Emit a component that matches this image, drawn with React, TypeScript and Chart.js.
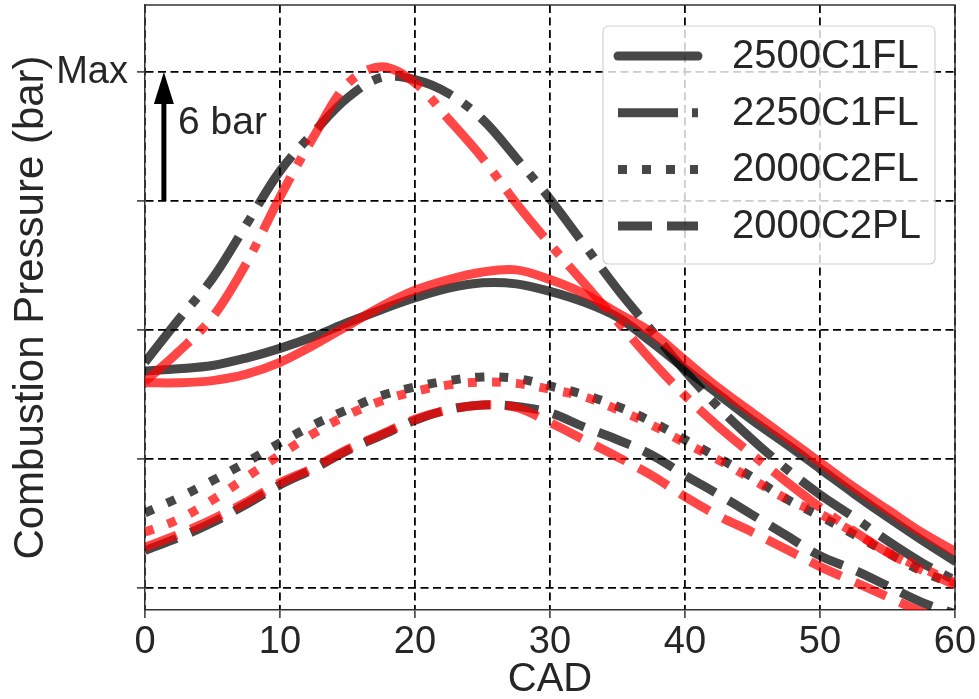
import React, { useEffect, useRef } from 'react';
import { Chart, registerables } from 'chart.js';

Chart.register(...registerables);

// ---------- data ----------
const cad = [0, 2.5, 5, 7.5, 10, 12.5, 15, 17.5, 20, 22.5, 25, 27.5, 30, 32.5, 35, 37.5, 40, 42.5, 45, 47.5, 50, 52.5, 55, 57.5, 60];

const sim2500C1FL = [10.1, 10.2, 10.35, 10.7, 11.15, 11.7, 12.35, 12.95, 13.5, 13.95, 14.2, 14.15, 13.8, 13.3, 12.6, 11.45, 10.2, 9.0, 7.8, 6.7, 5.55, 4.4, 3.3, 2.25, 1.25];
const exp2500C1FL = [9.55, 9.55, 9.65, 9.95, 10.5, 11.3, 12.2, 13.1, 13.85, 14.35, 14.7, 14.8, 14.35, 13.7, 12.8, 11.9, 10.6, 9.3, 8.15, 7.0, 5.85, 4.7, 3.65, 2.6, 1.7];
const sim2250C1FL = [10.5, 12.5, 14.4, 16.9, 19.4, 21.2, 22.8, 23.75, 23.65, 23.0, 21.8, 20.0, 18.1, 16.0, 13.9, 12.0, 10.1, 8.4, 6.9, 5.55, 4.35, 3.3, 2.2, 1.2, 0.35];
const exp2250C1FL = [9.6, 11.0, 12.6, 15.1, 18.2, 21.0, 23.45, 24.25, 23.5, 21.8, 20.0, 17.9, 16.0, 14.2, 12.4, 10.6, 8.95, 7.5, 6.2, 4.95, 3.75, 2.65, 1.65, 0.85, 0.15];
const sim2000C2FL = [3.5, 4.2, 5.0, 5.85, 6.75, 7.6, 8.3, 8.95, 9.35, 9.65, 9.82, 9.75, 9.4, 9.0, 8.45, 7.75, 6.9, 6.05, 5.15, 4.15, 3.35, 2.5, 1.65, 0.8, 0.15];
const exp2000C2FL = [2.6, 3.2, 4.1, 5.15, 6.2, 7.2, 8.05, 8.7, 9.15, 9.45, 9.58, 9.52, 9.25, 8.9, 8.3, 7.6, 6.75, 5.95, 5.05, 4.15, 3.45, 2.6, 1.68, 0.95, 0.25];
const sim2000C2PL = [1.75, 2.35, 3.05, 3.9, 4.8, 5.55, 6.4, 7.1, 7.8, 8.3, 8.52, 8.45, 8.15, 7.5, 6.9, 6.2, 5.25, 4.35, 3.4, 2.45, 1.5, 0.85, 0.1, -0.65, -1.2];
const exp2000C2PL = [1.9, 2.5, 3.2, 4.0, 4.9, 5.6, 6.45, 7.15, 7.85, 8.3, 8.52, 8.4, 7.7, 6.9, 6.1, 5.25, 4.25, 3.35, 2.6, 1.8, 1.0, 0.3, -0.4, -1.1, -1.7];

const seriesNames = ['2500C1FL', '2250C1FL', '2000C2FL', '2000C2PL'];
const simSeries = [sim2500C1FL, sim2250C1FL, sim2000C2FL, sim2000C2PL];
const expSeries = [exp2500C1FL, exp2250C1FL, exp2000C2FL, exp2000C2PL];

const xMin = 0;
const xMax = 60;
const xStep = 10;
const yMin = -1.02;
const yMax = 27.12;
const yTickValues = [0, 6, 12, 18, 24];
const yTickLabels = ['', '', '', '', 'Max'];

const xTitle = 'CAD';
const yTitle = 'Combustion Pressure (bar)';

const arrowX = 1.4;
const arrowFrom = 18;
const arrowTo = 24;
const arrowLabel = '6 bar';
const arrowLabelX = 2.45;
const arrowLabelY = 21.6;

// ---------- styles ----------
const FONT = '"Liberation Sans", Arial, "DejaVu Sans", sans-serif';
const TEXT = '#262626';
const SIM_COLOR = 'rgba(0,0,0,0.72)';
const EXP_COLOR = 'rgba(255,0,0,0.72)';
const LINE_W = 9;
const dashStyles: number[][] = [[], [60, 14, 9, 14], [9, 15], [34, 15]];

function makeDataset(label: string, values: number[], color: string, dash: number[], order: number) {
  return {
    label,
    data: cad.map((x, i) => ({ x, y: values[i] })),
    borderColor: color,
    backgroundColor: color,
    borderWidth: LINE_W,
    borderDash: dash,
    borderCapStyle: dash.length ? 'butt' : 'round',
    borderJoinStyle: 'round',
    pointRadius: 0,
    pointHoverRadius: 0,
    fill: false,
    tension: 0.35,
    order,
  };
}

const framePlugin = {
  id: 'frame',
  afterDatasetsDraw(chart: any) {
    const { ctx, chartArea: a } = chart;
    ctx.save();
    ctx.strokeStyle = '#333';
    ctx.lineWidth = 1.5;
    ctx.beginPath();
    ctx.moveTo(a.left, a.top);
    ctx.lineTo(a.right, a.top);
    ctx.lineTo(a.right, a.bottom);
    ctx.stroke();
    ctx.restore();
  },
};

const arrowPlugin = {
  id: 'arrowNote',
  afterDatasetsDraw(chart: any) {
    const { ctx, scales } = chart;
    const x = scales.x.getPixelForValue(arrowX);
    const y0 = scales.y.getPixelForValue(arrowFrom);
    const y1 = scales.y.getPixelForValue(arrowTo);
    const headLen = 32;
    const headHalf = 10;
    ctx.save();
    ctx.strokeStyle = '#000';
    ctx.fillStyle = '#000';
    ctx.lineWidth = 5;
    ctx.beginPath();
    ctx.moveTo(x, y0);
    ctx.lineTo(x, y1 + headLen - 2);
    ctx.stroke();
    ctx.beginPath();
    ctx.moveTo(x, y1);
    ctx.lineTo(x - headHalf, y1 + headLen);
    ctx.lineTo(x + headHalf, y1 + headLen);
    ctx.closePath();
    ctx.fill();
    ctx.fillStyle = TEXT;
    ctx.font = `39px ${FONT}`;
    ctx.textAlign = 'left';
    ctx.textBaseline = 'middle';
    ctx.fillText(arrowLabel, scales.x.getPixelForValue(arrowLabelX), scales.y.getPixelForValue(arrowLabelY));
    ctx.restore();
  },
};

const legendPlugin = {
  id: 'boxLegend',
  afterDraw(chart: any) {
    const { ctx, chartArea: a } = chart;
    const boxL = a.left + 458;
    const boxT = a.top + 21;
    const boxW = 332;
    const boxH = 238;
    const r = 6;
    ctx.save();
    ctx.beginPath();
    ctx.moveTo(boxL + r, boxT);
    ctx.lineTo(boxL + boxW - r, boxT);
    ctx.quadraticCurveTo(boxL + boxW, boxT, boxL + boxW, boxT + r);
    ctx.lineTo(boxL + boxW, boxT + boxH - r);
    ctx.quadraticCurveTo(boxL + boxW, boxT + boxH, boxL + boxW - r, boxT + boxH);
    ctx.lineTo(boxL + r, boxT + boxH);
    ctx.quadraticCurveTo(boxL, boxT + boxH, boxL, boxT + boxH - r);
    ctx.lineTo(boxL, boxT + r);
    ctx.quadraticCurveTo(boxL, boxT, boxL + r, boxT);
    ctx.closePath();
    ctx.fillStyle = 'rgba(255,255,255,0.8)';
    ctx.fill();
    ctx.strokeStyle = 'rgba(204,204,204,0.9)';
    ctx.lineWidth = 1.2;
    ctx.stroke();

    const rowH = 56.7;
    const firstY = boxT + 30;
    const lineX0 = boxL + 15;
    const lineX1 = boxL + 95;
    const textX = boxL + 129;
    seriesNames.forEach((name, i) => {
      const y = firstY + i * rowH;
      const dash = dashStyles[i];
      ctx.beginPath();
      ctx.setLineDash(dash);
      ctx.lineCap = dash.length ? 'butt' : 'round';
      ctx.strokeStyle = SIM_COLOR;
      ctx.lineWidth = LINE_W;
      ctx.moveTo(lineX0, y);
      ctx.lineTo(lineX1, y);
      ctx.stroke();
      ctx.setLineDash([]);
      ctx.fillStyle = TEXT;
      ctx.font = `40px ${FONT}`;
      ctx.textAlign = 'left';
      ctx.textBaseline = 'middle';
      ctx.fillText(name, textX, y + 1);
    });
    ctx.restore();
  },
};

export default function App() {
  const canvasRef = useRef<HTMLCanvasElement | null>(null);

  useEffect(() => {
    const canvas = canvasRef.current;
    if (!canvas) return;
    const datasets: any[] = [];
    seriesNames.forEach((name, i) => {
      datasets.push(makeDataset(name + ' sim', simSeries[i], SIM_COLOR, dashStyles[i], 1));
    });
    seriesNames.forEach((name, i) => {
      datasets.push(makeDataset(name + ' exp', expSeries[i], EXP_COLOR, dashStyles[i], 0));
    });

    const chart = new Chart(canvas, {
      type: 'line',
      data: { datasets },
      options: {
        animation: false,
        responsive: false,
        devicePixelRatio: 1,
        layout: { padding: { top: 5, right: 24, bottom: 0, left: 0 } },
        plugins: {
          legend: { display: false },
          tooltip: { enabled: false },
        },
        scales: {
          x: {
            type: 'linear',
            min: xMin,
            max: xMax,
            ticks: {
              stepSize: xStep,
              color: TEXT,
              font: { family: FONT, size: 38 },
              maxRotation: 0,
              padding: 2,
            },
            grid: {
              color: '#000',
              lineWidth: 1.8,
              tickColor: '#333',
              tickWidth: 1.5,
              tickLength: 8,
            },
            border: { display: true, color: '#333', width: 1.5, dash: [8, 4.5] },
            title: {
              display: true,
              text: xTitle,
              color: TEXT,
              font: { family: FONT, size: 40, lineHeight: 1 },
              padding: { top: 0, bottom: -1 },
            },
            afterFit(scale: any) {
              scale.height = 89;
              scale.paddingLeft = 0;
              scale.paddingRight = 0;
            },
          },
          y: {
            type: 'linear',
            min: yMin,
            max: yMax,
            afterBuildTicks(scale: any) {
              scale.ticks = yTickValues.map((v) => ({ value: v }));
            },
            ticks: {
              color: TEXT,
              font: { family: FONT, size: 38 },
              padding: 9,
              callback: (value: any) => {
                const idx = yTickValues.indexOf(Number(value));
                return idx >= 0 ? yTickLabels[idx] : '';
              },
            },
            grid: {
              color: '#000',
              lineWidth: 1.8,
              tickColor: '#333',
              tickWidth: 1.5,
              tickLength: 8,
            },
            border: { display: true, color: '#333', width: 1.5, dash: [8, 4.5] },
            title: {
              display: true,
              text: yTitle,
              color: TEXT,
              font: { family: FONT, size: 42, lineHeight: 1 },
              padding: { top: 10, bottom: 0 },
            },
            afterFit(scale: any) {
              scale.width = 145;
              scale.paddingTop = 0;
              scale.paddingBottom = 0;
            },
          },
        },
      },
      plugins: [framePlugin, arrowPlugin, legendPlugin],
    } as any);

    return () => chart.destroy();
  }, []);

  return (
    <div style={{ position: 'absolute', left: 0, top: 0, width: 979, height: 699, background: '#fff' }}>
      <canvas ref={canvasRef} width={979} height={699} style={{ width: 979, height: 699, display: 'block' }} />
    </div>
  );
}
